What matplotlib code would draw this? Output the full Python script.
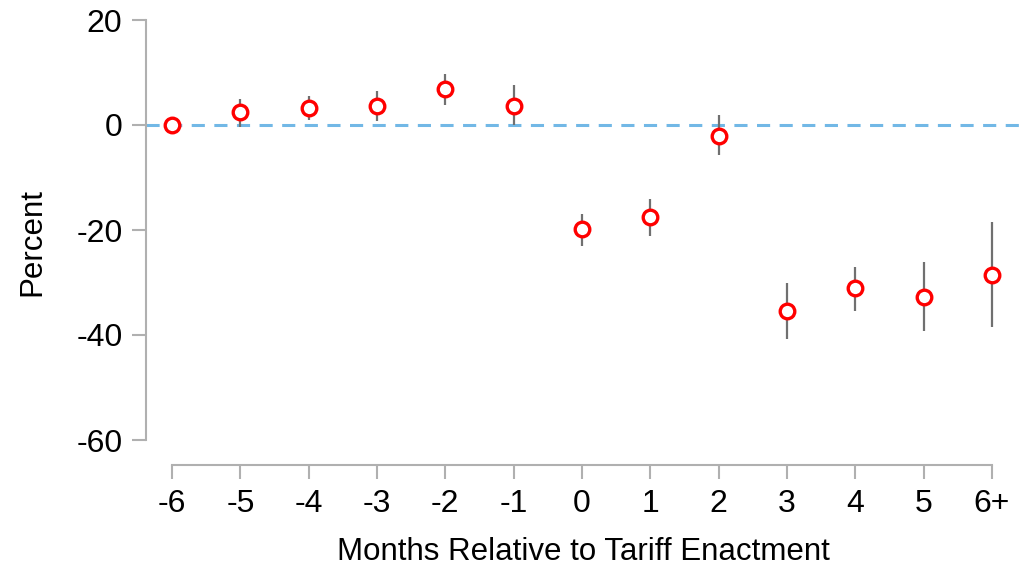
import matplotlib
matplotlib.use("Agg")
import matplotlib.pyplot as plt
import numpy as np

plt.rcParams['font.family'] = ['Liberation Sans', 'DejaVu Sans']
plt.rcParams['axes.unicode_minus'] = False

months = [-6, -5, -4, -3, -2, -1, 0, 1, 2, 3, 4, 5, 6]
month_labels = ['-6', '-5', '-4', '-3', '-2', '-1', '0', '1', '2', '3', '4', '5', '6+']
estimate = [0.0, 2.4, 3.3, 3.7, 6.8, 3.7, -19.9, -17.5, -2.0, -35.4, -31.1, -32.7, -28.5]
ci_low = [0.0, -0.3, 1.0, 0.8, 3.9, 0.0, -23.1, -21.2, -5.8, -40.8, -35.4, -39.2, -38.5]
ci_high = [0.0, 5.0, 5.5, 6.5, 9.7, 7.6, -16.9, -14.0, 1.9, -30.0, -27.0, -26.1, -18.5]

est = np.array(estimate)
yerr = [est - np.array(ci_low), np.array(ci_high) - est]

fig = plt.figure(figsize=(10.2, 5.73), dpi=100)
# axes box runs from the y spine to the right edge, and from the top tick to the x spine
ax = fig.add_axes([146 / 1020, 1 - 465 / 573, 874 / 1020, 445 / 573])
ax.set_xlim(-6 - 26 / 68.33, 6 + 28 / 68.33)
ax.set_ylim(-60 - 25 / 5.25, 20)

ax.axhline(0, color='#72b8e6', lw=2.2, dashes=(4.3, 3.1), zorder=1)

ax.errorbar(months, estimate, yerr=yerr, fmt='none', ecolor='#707070',
            elinewidth=1.6, capsize=0, zorder=2)
ax.plot(months, estimate, 'o', mfc='white', mec='#ff0000', mew=2.4, ms=10.5,
        zorder=3)

for side in ['top', 'right']:
    ax.spines[side].set_visible(False)
for side in ['left', 'bottom']:
    ax.spines[side].set_color('#b0b0b0')
    ax.spines[side].set_linewidth(1.5)
ax.spines['left'].set_bounds(-60, 20)
ax.spines['bottom'].set_bounds(-6, 6)

ax.set_xticks(months)
ax.set_xticklabels(month_labels)
ax.set_yticks([-60, -40, -20, 0, 20])
ax.tick_params(axis='both', length=10, width=1.5, color='#b0b0b0',
               labelsize=23, pad=7, labelcolor='black')

ax.set_xlabel('Months Relative to Tariff Enactment', fontsize=22.5, labelpad=13)
ax.set_ylabel('Percent', fontsize=22.5, labelpad=21)

fig.savefig('out.png', dpi=100)
